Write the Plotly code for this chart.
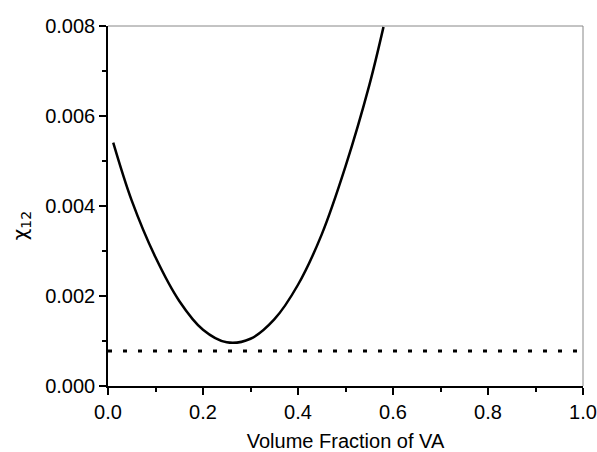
import plotly.graph_objects as go

# curve: chi_12 vs volume fraction of VA
phi = [0.011, 0.05, 0.10, 0.15, 0.20, 0.25, 0.30, 0.35, 0.40, 0.45, 0.50, 0.55, 0.58]
chi = [0.00541, 0.00412, 0.00286, 0.00189, 0.00125, 0.00097, 0.00105, 0.00148,
       0.00225, 0.00337, 0.00488, 0.00668, 0.00798]

# horizontal reference level
ref_x = [0.0, 1.0]
ref_y = [0.00078, 0.00078]

FONT = "Liberation Sans, Arial, sans-serif"

fig = go.Figure()
fig.add_trace(go.Scatter(x=ref_x, y=ref_y, mode="lines",
                         line=dict(color="black", width=3, dash="4px,11px"),
                         showlegend=False))
fig.add_trace(go.Scatter(x=phi, y=chi, mode="lines",
                         line=dict(color="black", width=2.5, shape="spline", smoothing=1.0),
                         showlegend=False))

fig.update_layout(
    width=597, height=452,
    margin=dict(l=108, r=14, t=26, b=66, autoexpand=False),
    paper_bgcolor="white", plot_bgcolor="white",
    font=dict(family=FONT, size=20, color="black"),
    xaxis=dict(range=[0, 1], dtick=0.2, tickformat=".1f", automargin=False,
               showgrid=False, zeroline=False,
               showline=True, linecolor="black", linewidth=1.5,
               ticks="outside", ticklen=7, tickwidth=1.5, tickcolor="black",
               tickfont=dict(family=FONT, size=20),
               minor=dict(ticks="outside", ticklen=4, tickwidth=1.5, dtick=0.1, tickcolor="black"),
               title=dict(text="Volume Fraction of VA", standoff=12,
                          font=dict(family=FONT, size=20))),
    yaxis=dict(range=[0, 0.008], dtick=0.002, tickformat=".3f", automargin=False,
               showgrid=False, zeroline=False,
               showline=True, linecolor="black", linewidth=1.5,
               ticks="outside", ticklen=7, tickwidth=1.5, tickcolor="black",
               tickfont=dict(family=FONT, size=20),
               minor=dict(ticks="outside", ticklen=4, tickwidth=1.5, dtick=0.001, tickcolor="black")),
    shapes=[
        dict(type="line", xref="paper", yref="paper", x0=0, x1=1, y0=1, y1=1,
             line=dict(color="#888888", width=1)),
        dict(type="line", xref="paper", yref="paper", x0=1, x1=1, y0=0, y1=1,
             line=dict(color="#888888", width=1)),
    ],
    annotations=[
        dict(text="χ<sub>12</sub>", textangle=-90, xref="paper", yref="paper",
             x=-0.183, y=0.444, showarrow=False, xanchor="center", yanchor="middle",
             font=dict(family="DejaVu Sans", size=20, color="black")),
    ],
)

fig.write_html("out.html")
